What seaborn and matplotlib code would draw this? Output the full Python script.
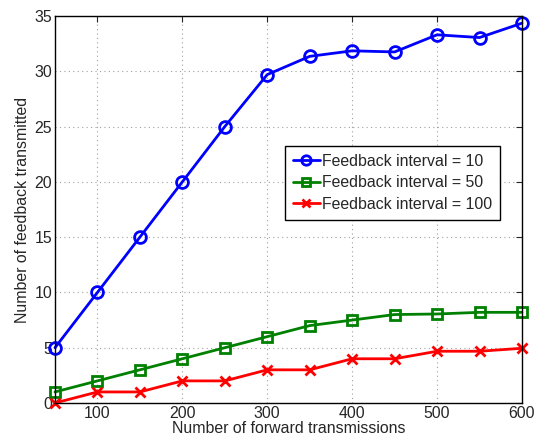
import matplotlib
matplotlib.use("Agg")
import matplotlib.pyplot as plt
import seaborn as sns
import pandas as pd

x_vals = [50, 100, 150, 200, 250, 300, 350, 400, 450, 500, 550, 600]
fb10 = [5, 10, 15, 20, 25, 29.7, 31.35, 31.85, 31.75, 33.3, 33.05, 34.35]
fb50 = [1, 2, 3, 4, 5, 6, 7, 7.5, 8.0, 8.05, 8.2, 8.2]
fb100 = [0, 1, 1, 2, 2, 3, 3, 4, 4, 4.68, 4.68, 4.95]
labels = ["Feedback interval = 10", "Feedback interval = 50", "Feedback interval = 100"]
colors = ["#0000ff", "#008000", "#ff0000"]
markers = ["o", "s", "x"]
xticks = [100, 200, 300, 400, 500, 600]
yticks = [0, 5, 10, 15, 20, 25, 30, 35]

sns.set_style("white")
plt.rcParams['font.family'] = ['Liberation Sans', 'DejaVu Sans']
FS = 11.4

fig = plt.figure(figsize=(5.38, 4.37), dpi=100)
ax = fig.add_axes([0.1022, 0.0778, 0.868, 0.8856])

sizes = [8.5, 7, 6.5]
for ys, lab, c in zip([fb10, fb50, fb100], labels, colors):
    df = pd.DataFrame({"x": x_vals, "y": ys})
    sns.lineplot(data=df, x="x", y="y", ax=ax, color=c, linewidth=2, label=lab)

for line, c, m, sz in zip(ax.lines[:3], colors, markers, sizes):
    line.set_linestyle("-")
    line.set_marker(m)
    line.set_markersize(sz)
    line.set_markerfacecolor("none")
    line.set_markeredgecolor(c)
    line.set_markeredgewidth(2)
    line.set_clip_on(False)

ax.set_xlim(50, 600)
ax.set_ylim(0, 35)
ax.set_xticks(xticks)
ax.set_yticks(yticks)
ax.tick_params(direction="in", top=True, right=True, length=4, labelsize=FS, pad=2)
ax.grid(True, linestyle=(0, (1, 3)), color="#a0a0a0", linewidth=0.8)
for s in ax.spines.values():
    s.set_visible(True)
    s.set_color("black")
    s.set_linewidth(1)
ax.set_xlabel("Number of forward transmissions", fontsize=FS, labelpad=0)
ax.set_ylabel("Number of feedback transmitted", fontsize=FS, labelpad=3)

leg = ax.legend(loc="upper left", bbox_to_anchor=(0.4925, 0.664),
                fontsize=FS, frameon=True, fancybox=False, edgecolor="black", framealpha=1,
                handlelength=1.7, borderpad=0.5, labelspacing=0.4, handletextpad=0.15,
                borderaxespad=0)
leg.get_frame().set_linewidth(1)
for h, c, m, sz in zip(leg.get_lines(), colors, markers, sizes):
    h.set_linestyle("-")
    h.set_marker(m)
    h.set_markersize(sz * 0.8)
    h.set_markerfacecolor("none")
    h.set_markeredgecolor(c)
    h.set_markeredgewidth(2)

fig.savefig("out.png", dpi=100)
